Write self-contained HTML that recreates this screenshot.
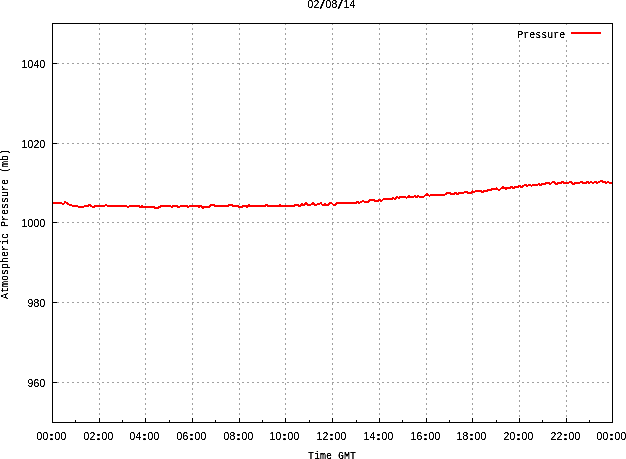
<!DOCTYPE html>
<html lang="en">
<head>
<meta charset="utf-8">
<title>Atmospheric Pressure 02/08/14</title>
<style>
html,body{margin:0;padding:0;background:#fff;}
body{width:626px;height:459px;overflow:hidden;}
svg{display:block;}
text{fill:#000;}
.m{font-family:"Liberation Mono","DejaVu Sans Mono",monospace;font-size:11.5px;}
.n{font-family:"Liberation Sans","DejaVu Sans",sans-serif;font-size:11.2px;text-anchor:middle;}
.c{font-weight:bold;stroke:#000;stroke-width:.55px;}
.t{will-change:transform;filter:url(#crisp);}
.b{stroke:#000;stroke-width:1;fill:none;shape-rendering:crispEdges;}
.g{stroke:#a0a0a0;stroke-width:1;fill:none;shape-rendering:crispEdges;stroke-dasharray:2 3;}
.r{stroke:#f00;stroke-width:2;fill:none;stroke-linejoin:round;stroke-linecap:butt;shape-rendering:crispEdges;}
</style>
</head>
<body>
<svg width="626" height="459" viewBox="0 0 626 459">
<defs><filter id="crisp" x="0" y="0" width="100%" height="100%" filterUnits="userSpaceOnUse" color-interpolation-filters="sRGB"><feComponentTransfer><feFuncA type="linear" slope="3" intercept="-0.7"/></feComponentTransfer></filter></defs>
<rect x="0" y="0" width="626" height="459" fill="#fff"/>

<g class="g">
<line x1="99.5" y1="23" x2="99.5" y2="418"/>
<line x1="145.5" y1="23" x2="145.5" y2="418"/>
<line x1="192.5" y1="23" x2="192.5" y2="418"/>
<line x1="239.5" y1="23" x2="239.5" y2="418"/>
<line x1="285.5" y1="23" x2="285.5" y2="418"/>
<line x1="332.5" y1="23" x2="332.5" y2="418"/>
<line x1="379.5" y1="23" x2="379.5" y2="418"/>
<line x1="426.5" y1="23" x2="426.5" y2="418"/>
<line x1="472.5" y1="23" x2="472.5" y2="418"/>
<line x1="519.5" y1="23" x2="519.5" y2="25"/>
<line x1="519.5" y1="40" x2="519.5" y2="418"/>
<line x1="566.5" y1="23" x2="566.5" y2="25"/>
<line x1="566.5" y1="40" x2="566.5" y2="418"/>
<line x1="52" y1="63.5" x2="612" y2="63.5"/>
<line x1="52" y1="143.5" x2="612" y2="143.5"/>
<line x1="52" y1="222.5" x2="612" y2="222.5"/>
<line x1="52" y1="302.5" x2="612" y2="302.5"/>
<line x1="52" y1="382.5" x2="612" y2="382.5"/>
</g>
<rect class="b" x="52.5" y="23.5" width="560" height="399"/>
<g class="b">
<line x1="52.5" y1="422" x2="52.5" y2="418"/>
<line x1="99.5" y1="422" x2="99.5" y2="418"/>
<line x1="145.5" y1="422" x2="145.5" y2="418"/>
<line x1="192.5" y1="422" x2="192.5" y2="418"/>
<line x1="239.5" y1="422" x2="239.5" y2="418"/>
<line x1="285.5" y1="422" x2="285.5" y2="418"/>
<line x1="332.5" y1="422" x2="332.5" y2="418"/>
<line x1="379.5" y1="422" x2="379.5" y2="418"/>
<line x1="426.5" y1="422" x2="426.5" y2="418"/>
<line x1="472.5" y1="422" x2="472.5" y2="418"/>
<line x1="519.5" y1="422" x2="519.5" y2="418"/>
<line x1="566.5" y1="422" x2="566.5" y2="418"/>
<line x1="612.5" y1="422" x2="612.5" y2="418"/>
<line x1="75.5" y1="422" x2="75.5" y2="420"/>
<line x1="122.5" y1="422" x2="122.5" y2="420"/>
<line x1="169.5" y1="422" x2="169.5" y2="420"/>
<line x1="215.5" y1="422" x2="215.5" y2="420"/>
<line x1="262.5" y1="422" x2="262.5" y2="420"/>
<line x1="309.5" y1="422" x2="309.5" y2="420"/>
<line x1="356.5" y1="422" x2="356.5" y2="420"/>
<line x1="402.5" y1="422" x2="402.5" y2="420"/>
<line x1="449.5" y1="422" x2="449.5" y2="420"/>
<line x1="496.5" y1="422" x2="496.5" y2="420"/>
<line x1="542.5" y1="422" x2="542.5" y2="420"/>
<line x1="589.5" y1="422" x2="589.5" y2="420"/>
<line x1="53" y1="63.5" x2="57" y2="63.5"/>
<line x1="53" y1="143.5" x2="57" y2="143.5"/>
<line x1="53" y1="222.5" x2="57" y2="222.5"/>
<line x1="53" y1="302.5" x2="57" y2="302.5"/>
<line x1="53" y1="382.5" x2="57" y2="382.5"/>
</g>
<polyline class="r" points="53,203 61,203 62.5,203.8 64,203.5 65.2,202.2 67,203 69.3,204.7 71,205 72.5,205.8 76,205.8 79,206.9 83,206.9 85,206 88,206 89.5,205 91,206 92.5,206.9 94,206.9 95.5,205.9 104.5,205.9 106,205 107.5,205.9 126,205.9 128.2,207 130,206 139.5,206 140,206.9 141.5,206.9 142,206 143,206.9 153.5,206.9 154.6,207.8 158.4,207.8 161,206 170,206 171.6,207 173,206 177,206 178.8,207.5 180.5,206 186.7,206 188.3,207 190,206 197.7,206 198.5,207 200,206 201.5,206 202.8,207.8 204,206.9 209,206.9 210,206 211.5,205 214,205 214.5,206 228,206 229,205 232,205 232.5,206 238,206 238.5,207 242,207 242.5,206 246,206 247.5,207 248.7,205 250,206 265,206 265.5,205 267,205 267.5,206 279,206 280,205 281.5,206 294,206 294.5,205 298,205 298.5,206 300.5,206 301.5,204 302.5,204 303,205 304.5,205 306,203 307.5,205 310.5,205 313,203 315,205 316.5,205 317.5,204 319.5,204 320.7,203 322.5,205 324,205 324.7,204 326.5,205 328,205 329.7,203 331.5,203 333.5,205 335.5,205 337,203 356,203 357.5,202 359.5,203 361,201.9 363,200.9 364.5,201.9 368,201.9 369,200.9 370.5,200 374,200 375,200.9 378,200.9 379.5,200 381.5,201 383.5,199 392,199 393,198 395,199 397,197 399,198 400,197 405,197 406.5,197.9 409,196 410,197 413,197 414.5,196.1 416.5,197 418.5,196.1 420,197 423,197 424.5,196.1 425.5,195 427,194.1 429.5,195.8 431,195 444,195 445.5,194.1 447,193 450,193 451,194 454,194 455.5,193 457.5,194 459,193.2 463,193.2 464.5,192.2 467,192.2 468,193 471,193 472.5,191.3 474,192 476,191 481,191 482.5,192 484,191 487,191 488,190.2 491,190.2 492,189.3 495,189.3 496.5,188.3 499,190.2 500.5,189 503,187 506,189 507,188 510,188 511.5,187 513.5,188 515,187 518,187 519.5,186 521.5,187 525,185 527.5,185.8 529.5,185 531.5,185.8 533,185 537,185 538.5,184.1 540.5,185 542,184.1 545,184.1 546,183 549,183 550.5,184 553,181.5 555,183.2 556.5,184.1 558,183 561,183 562.5,181.9 564,183 568,183 570.5,181.9 573.5,184.1 575,183 579,183 581.5,181.9 583,183 586,183 587.5,181.9 589,183 591,181.9 593,183 595,181.9 597.5,183 599,181.9 601.5,180.9 603.5,182.2 605,181.9 606.5,183 608,181.9 610,183 612,183"/>
<line class="r" x1="571" y1="33" x2="601" y2="33" style="shape-rendering:crispEdges"/>
<g class="t">
<text class="m" transform="translate(517.3 38) scale(0.86957 1)" x="0" y="0">Pressure</text>
<text class="n" transform="translate(307.5 8) scale(0.93 1)" x="3.23 9.68" y="0">02</text><text class="n" transform="translate(322.1 8.6) scale(1.75 1.12)" x="0" y="0">/</text><text class="n" transform="translate(307.5 8) scale(0.93 1)" x="22.58 29.03" y="0">08</text><text class="n" transform="translate(340.1 8.6) scale(1.75 1.12)" x="0" y="0">/</text><text class="n" transform="translate(307.5 8) scale(0.93 1)" x="41.94 48.39" y="0">14</text>
<text class="n" transform="translate(36.5 440) scale(0.93 1)" x="3.23 9.68 16.13 22.58 29.03" y="0">00<tspan class="c">:</tspan>00</text>
<text class="n" transform="translate(83.5 440) scale(0.93 1)" x="3.23 9.68 16.13 22.58 29.03" y="0">02<tspan class="c">:</tspan>00</text>
<text class="n" transform="translate(129.5 440) scale(0.93 1)" x="3.23 9.68 16.13 22.58 29.03" y="0">04<tspan class="c">:</tspan>00</text>
<text class="n" transform="translate(176.5 440) scale(0.93 1)" x="3.23 9.68 16.13 22.58 29.03" y="0">06<tspan class="c">:</tspan>00</text>
<text class="n" transform="translate(223.5 440) scale(0.93 1)" x="3.23 9.68 16.13 22.58 29.03" y="0">08<tspan class="c">:</tspan>00</text>
<text class="n" transform="translate(269.5 440) scale(0.93 1)" x="3.23 9.68 16.13 22.58 29.03" y="0">10<tspan class="c">:</tspan>00</text>
<text class="n" transform="translate(316.5 440) scale(0.93 1)" x="3.23 9.68 16.13 22.58 29.03" y="0">12<tspan class="c">:</tspan>00</text>
<text class="n" transform="translate(363.5 440) scale(0.93 1)" x="3.23 9.68 16.13 22.58 29.03" y="0">14<tspan class="c">:</tspan>00</text>
<text class="n" transform="translate(410.5 440) scale(0.93 1)" x="3.23 9.68 16.13 22.58 29.03" y="0">16<tspan class="c">:</tspan>00</text>
<text class="n" transform="translate(456.5 440) scale(0.93 1)" x="3.23 9.68 16.13 22.58 29.03" y="0">18<tspan class="c">:</tspan>00</text>
<text class="n" transform="translate(503.5 440) scale(0.93 1)" x="3.23 9.68 16.13 22.58 29.03" y="0">20<tspan class="c">:</tspan>00</text>
<text class="n" transform="translate(550.5 440) scale(0.93 1)" x="3.23 9.68 16.13 22.58 29.03" y="0">22<tspan class="c">:</tspan>00</text>
<text class="n" transform="translate(596.5 440) scale(0.93 1)" x="3.23 9.68 16.13 22.58 29.03" y="0">00<tspan class="c">:</tspan>00</text>
<text class="n" transform="translate(21.5 68) scale(0.93 1)" x="3.23 9.68 16.13 22.58" y="0">1040</text>
<text class="n" transform="translate(21.5 148) scale(0.93 1)" x="3.23 9.68 16.13 22.58" y="0">1020</text>
<text class="n" transform="translate(21.5 227) scale(0.93 1)" x="3.23 9.68 16.13 22.58" y="0">1000</text>
<text class="n" transform="translate(27.5 307) scale(0.93 1)" x="3.23 9.68 16.13" y="0">980</text>
<text class="n" transform="translate(27.5 387) scale(0.93 1)" x="3.23 9.68 16.13" y="0">960</text>
<text class="m" transform="translate(308 459) scale(0.86957 1)" x="0" y="0">Time GMT</text>
<text class="m" transform="translate(8.4 299) rotate(-90) scale(0.86957 1)" x="0" y="0">Atmospheric Pressure (mb)</text>
</g>
</svg>
</body>
</html>
